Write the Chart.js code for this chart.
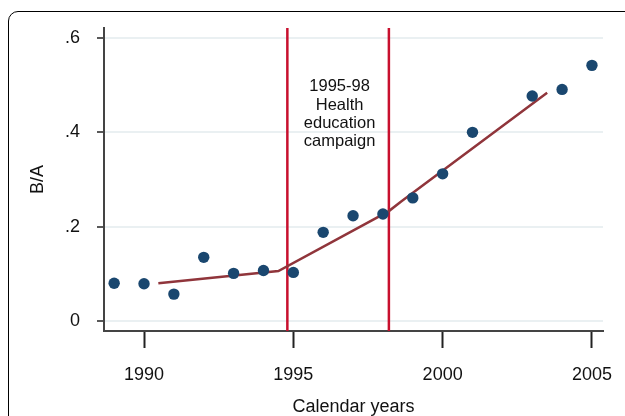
<!DOCTYPE html>
<html>
<head>
<meta charset="utf-8">
<script src="https://cdn.jsdelivr.net/npm/chart.js@4"></script>
<style>
  html, body { margin: 0; padding: 0; background: #fff; }
  #wrap { position: relative; width: 625px; height: 416px; overflow: hidden; }
  #frame { position: absolute; left: 8px; top: 11px; width: 700px; height: 500px;
           border: 1.3px solid #000; border-radius: 10px; box-sizing: border-box; }
  canvas { position: absolute; left: 0; top: 0; }
</style>
</head>
<body>
<div id="wrap">
  <div id="frame"></div>
  <canvas id="chart" width="625" height="416"></canvas>
</div>
<script>
// observed ratio per year
const years = [1989, 1990, 1991, 1992, 1993, 1994, 1995, 1996, 1997, 1998, 1999, 2000, 2001, 2003, 2004, 2005];
const ratio = [0.080, 0.079, 0.057, 0.135, 0.101, 0.107, 0.103, 0.188, 0.223, 0.227, 0.261, 0.312, 0.400, 0.477, 0.491, 0.542];

// fitted trend
const fitYears = [1990.48, 1994.5, 1998.2, 1998.6, 2003.5];
const fitValues = [0.080, 0.106, 0.233, 0.253, 0.484];

// campaign markers and note
const campaignYears = [1994.8, 1998.2];
const campaignNote = ['1995-98', 'Health', 'education', 'campaign'];
const noteAt = { x: 1996.55, y: 0.497 };

const xTicks = [1990, 1995, 2000, 2005];
const yTicks = [0, 0.2, 0.4, 0.6];
const yTickLabels = ['0', '.2', '.4', '.6'];

const font = 'Liberation Sans, Arial, sans-serif';

const campaignPlugin = {
    id: 'campaign',
    beforeDatasetsDraw(chart) {
        const { ctx, chartArea, scales } = chart;
        ctx.save();
        ctx.strokeStyle = '#c8102e';
        ctx.lineWidth = 2.5;
        campaignYears.forEach(function(yr) {
            const px = scales.x.getPixelForValue(yr);
            ctx.beginPath();
            ctx.moveTo(px, chartArea.top);
            ctx.lineTo(px, chartArea.bottom);
            ctx.stroke();
        });
        ctx.fillStyle = '#111';
        ctx.font = '16.5px ' + font;
        ctx.textAlign = 'center';
        ctx.textBaseline = 'middle';
        const nx = scales.x.getPixelForValue(noteAt.x);
        const ny = scales.y.getPixelForValue(noteAt.y);
        campaignNote.forEach(function(line, i) {
            ctx.fillText(line, nx, ny + i * 18.4);
        });
        ctx.restore();
    }
};

const ctx = document.getElementById('chart').getContext('2d');
const chart = new Chart(ctx, {
    type: 'scatter',
    data: {
        datasets: [{
            label: 'B/A',
            data: years.map((y, i) => ({ x: y, y: ratio[i] })),
            backgroundColor: '#1a476f',
            borderWidth: 0,
            pointRadius: 5.7,
            order: 1
        }, {
            label: 'trend',
            type: 'line',
            data: fitYears.map((y, i) => ({ x: y, y: fitValues[i] })),
            borderColor: '#90353b',
            borderWidth: 2.5,
            pointRadius: 0,
            fill: false,
            tension: 0,
            order: 2
        }]
    },
    options: {
        responsive: false,
        animation: false,
        layout: { padding: { left: 0, right: 22, top: 28, bottom: 0 } },
        plugins: { legend: { display: false }, tooltip: { enabled: false } },
        scales: {
            x: {
                type: 'linear',
                min: 1988.66,
                max: 2005.37,
                afterFit: s => { s.height = 85; s.paddingRight = 0; s.paddingLeft = 0; },
                afterBuildTicks: s => { s.ticks = xTicks.map(v => ({ value: v })); },
                grid: { drawOnChartArea: false, tickLength: 17, tickColor: '#222', tickWidth: 2 },
                border: { color: '#444', width: 2 },
                ticks: { color: '#111', font: { family: font, size: 18 }, padding: 16, maxRotation: 0,
                         callback: v => String(v) },
                title: { display: true, text: 'Calendar years', color: '#111',
                         font: { family: font, size: 18, lineHeight: 0.95 }, padding: { top: 0, bottom: 0 } }
            },
            y: {
                min: -0.0212,
                max: 0.6212,
                afterFit: s => { s.width = 104; s.paddingTop = 0; s.paddingBottom = 0; },
                afterBuildTicks: s => { s.ticks = yTicks.map(v => ({ value: v })); },
                grid: { color: '#eaf0f2', lineWidth: 2, tickLength: 7, tickColor: '#222', tickWidth: 1.5 },
                border: { color: '#444', width: 2 },
                ticks: {
                    color: '#111', font: { family: font, size: 18 }, padding: 17,
                    callback: v => yTickLabels[yTicks.indexOf(v)]
                },
                title: { display: true, text: 'B/A', color: '#111',
                         font: { family: font, size: 18 }, padding: { top: 27, bottom: 0 } }
            }
        }
    },
    plugins: [campaignPlugin]
});
</script>
</body>
</html>
